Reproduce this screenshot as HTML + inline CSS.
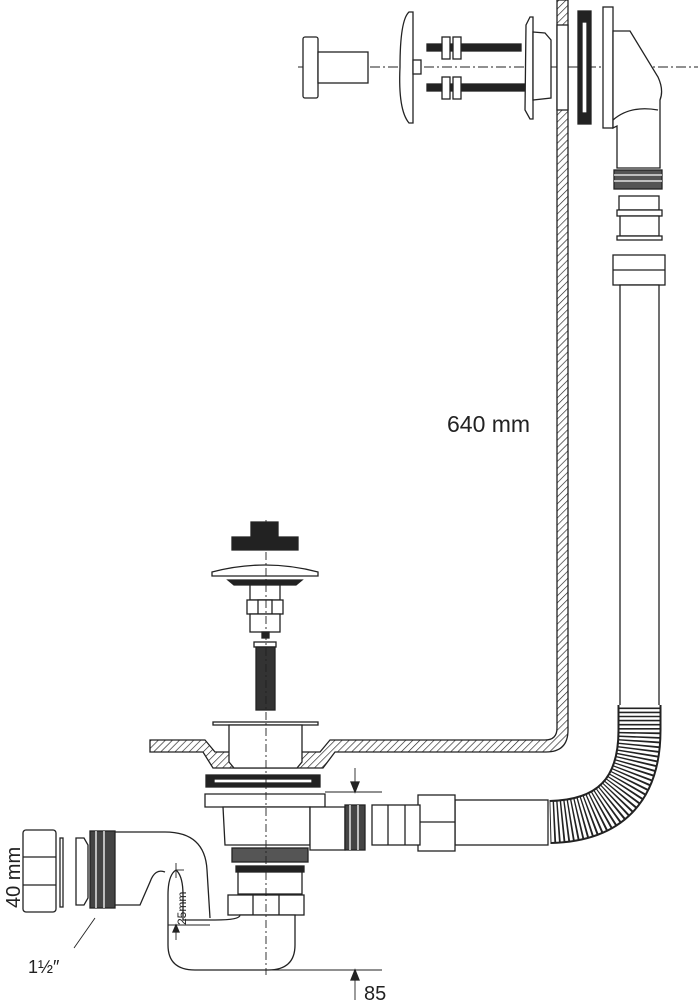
<!DOCTYPE html>
<html><head><meta charset="utf-8"><style>
html,body{margin:0;padding:0;background:#fff}
svg{display:block}
text{font-family:"Liberation Sans",sans-serif;fill:#222}
</style></head><body>
<svg width="698" height="1000" viewBox="0 0 698 1000" xmlns="http://www.w3.org/2000/svg">
<defs>
<pattern id="h" width="5" height="5" patternUnits="userSpaceOnUse" patternTransform="rotate(45)">
<rect width="5" height="5" fill="#fff"/><line x1="0" y1="0" x2="0" y2="5" stroke="#222" stroke-width="1.3"/>
</pattern>
</defs>
<g stroke="#222" stroke-width="1.3" fill="#fff">
<line x1="298" y1="67" x2="698" y2="67" stroke-dasharray="10 3 2 3" stroke-width="0.9"/>
<rect x="303" y="37" width="15" height="61" rx="2"/>
<rect x="318" y="52" width="50" height="31"/>
<path d="M409 12 L413 12 L413 123 L409 123 Q398 110 400 67 Q400 20 409 12Z"/>
<rect x="413" y="60" width="8" height="14"/>
<rect x="427" y="44" width="94" height="7" fill="#222"/>
<rect x="427" y="84" width="107" height="7" fill="#222"/>
<rect x="442" y="37" width="8" height="22"/><rect x="453" y="37" width="8" height="22"/>
<rect x="442" y="77" width="8" height="22"/><rect x="453" y="77" width="8" height="22"/>
<path d="M530 17 L526 25 L525 110 L530 119 L533 119 L533 17Z"/>
<path d="M533 32 L545 33 L551 40 L551 98 L533 100Z"/>
<path d="M557 0 L568 0 L568 730 Q568 752 546 752 L335 752 L323 768 L213 768 L203 752 L150 752 L150 740 L205 740 L215 752 L320 752 L330 740 L545 740 Q557 740 557 728Z" fill="url(#h)"/>
<rect x="557" y="25" width="11" height="85"/>
<rect x="578" y="11" width="13" height="113" fill="#222"/>
<rect x="582" y="22" width="5" height="91" fill="#fff"/>
<rect x="603" y="7" width="10" height="121"/>
<path d="M613 31 L630 31 L658 77 Q664 90 660 100 L660 168 L617 168 L617 126 L613 128Z"/>
<path d="M613 120 Q630 105 658 110" fill="none"/>
<rect x="614" y="170" width="48" height="19" fill="#555"/>
<line x1="614" y1="175" x2="662" y2="175" stroke="#fff"/><line x1="614" y1="181" x2="662" y2="181" stroke="#fff"/>
<rect x="619" y="196" width="40" height="14"/>
<rect x="617" y="210" width="45" height="6"/>
<rect x="620" y="216" width="39" height="20"/>
<rect x="617" y="236" width="45" height="4"/>
<rect x="613" y="255" width="52" height="30"/>
<line x1="613" y1="270" x2="665" y2="270"/>
<rect x="620" y="285" width="39" height="425"/>
<path d="M639.5 705 L639.5 730 Q639.5 820 550 822" fill="none" stroke="#222" stroke-width="44"/>
<path d="M639.5 705 L639.5 730 Q639.5 820 550 822" fill="none" stroke="#fff" stroke-width="40" stroke-dasharray="2.5 1.6"/>
<rect x="455" y="800" width="93" height="45"/>
<rect x="418" y="795" width="37" height="56"/>
<line x1="418" y1="822" x2="455" y2="822"/>
<rect x="372" y="805" width="48" height="40"/>
<line x1="388" y1="805" x2="388" y2="845"/><line x1="405" y1="805" x2="405" y2="845"/>
<path d="M251 522 L278 522 L278 537 L298 537 L298 550 L232 550 L232 537 L251 537Z" fill="#222"/>
<path d="M212 572 Q265 558 318 572 L318 576 L212 576Z"/>
<path d="M228 580 L302 580 L296 585 L234 585Z" fill="#222"/>
<rect x="250" y="585" width="30" height="15"/>
<rect x="247" y="600" width="36" height="14"/>
<rect x="258" y="600" width="14" height="14"/>
<rect x="250" y="614" width="30" height="18"/>
<rect x="262" y="632" width="7" height="6" fill="#222"/>
<rect x="254" y="642" width="22" height="5"/>
<rect x="256" y="647" width="19" height="63" fill="#333"/>
<rect x="213" y="722" width="105" height="3"/>
<path d="M229 725 L302 725 L302 762 L297 768 L234 768 L229 762Z"/>
<rect x="206" y="775" width="114" height="12" fill="#222"/>
<rect x="214" y="779" width="98" height="4"/>
<path d="M205 794 L325 794 L325 807 L205 807Z"/>
<path d="M223 807 L310 807 L310 845 L225 845Z"/>
<path d="M310 807 L345 807 L345 850 L310 850Z"/>
<rect x="345" y="805" width="20" height="45" fill="#444"/>
<line x1="350" y1="805" x2="350" y2="850" stroke="#fff"/><line x1="358" y1="805" x2="358" y2="850" stroke="#fff"/>
<rect x="232" y="848" width="76" height="14" fill="#555"/>
<rect x="236" y="866" width="68" height="6" fill="#222"/>
<rect x="238" y="872" width="64" height="22"/>
<rect x="228" y="895" width="76" height="20"/>
<line x1="253" y1="895" x2="253" y2="915"/><line x1="279" y1="895" x2="279" y2="915"/>
<path d="M240 915 L295 915 L295 945 Q295 970 268 970 L195 970 Q168 970 168 945 L168 895 Q168 875 176 870 Q183 876 183 895 L183 920 L215 920 Q240 920 240 915Z"/>
<path d="M115 832 L165 832 Q205 832 207 870 L210 918" fill="none"/>
<path d="M115 905 L140 905 L150 882 Q155 868 165 872" fill="none"/>
<rect x="90" y="831" width="25" height="77" fill="#444"/>
<line x1="96" y1="831" x2="96" y2="908" stroke="#fff"/><line x1="104" y1="831" x2="104" y2="908" stroke="#fff"/>
<path d="M76 838 L84 838 L88 845 L88 898 L84 905 L76 905Z"/>
<rect x="60" y="838" width="3" height="69"/>
<rect x="23" y="830" width="33" height="82" rx="3"/>
<line x1="23" y1="857" x2="56" y2="857"/><line x1="23" y1="885" x2="56" y2="885"/>
<line x1="266" y1="520" x2="266" y2="975" stroke-dasharray="8 3 2 3" stroke-width="0.9"/>
<line x1="325" y1="792" x2="382" y2="792" stroke-width="0.9"/>
<line x1="355" y1="768" x2="355" y2="785" stroke-width="0.9"/>
<path d="M351 782 L359 782 L355 792Z" fill="#222"/>
<line x1="268" y1="970" x2="382" y2="970" stroke-width="0.9"/>
<line x1="355" y1="977" x2="355" y2="1000" stroke-width="0.9"/>
<path d="M351 980 L359 980 L355 970Z" fill="#222"/>
<line x1="176" y1="870" x2="184" y2="870" stroke-width="0.9"/>
<line x1="176" y1="863" x2="176" y2="878" stroke-width="0.9"/>
<line x1="168" y1="925" x2="210" y2="925" stroke-width="0.9"/>
<line x1="176" y1="928" x2="176" y2="940" stroke-width="0.9"/>
<path d="M173 932 L179 932 L176 925Z" fill="#222"/>
<line x1="95" y1="918" x2="74" y2="948" stroke-width="0.9"/>
</g>
<text x="447" y="432" font-size="23">640 mm</text>
<text x="364" y="1000" font-size="20">85</text>
<text x="28" y="973" font-size="18">1½″</text>
<text transform="translate(20,908) rotate(-90)" font-size="20">40 mm</text>
<text transform="translate(186,925) rotate(-90)" font-size="12">25mm</text>
</svg>
</body></html>
